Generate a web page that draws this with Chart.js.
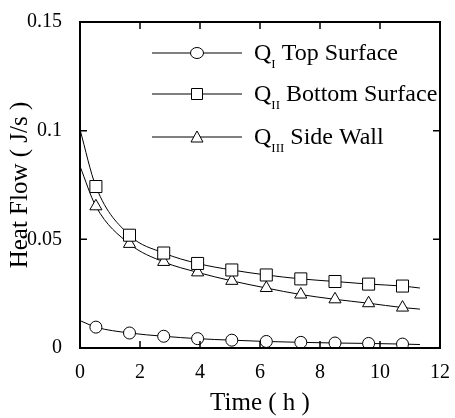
<!DOCTYPE html>
<html>
<head>
<meta charset="utf-8">
<script src="https://cdn.jsdelivr.net/npm/chart.js@4/dist/chart.umd.min.js"></script>
<style>
  html, body { margin: 0; padding: 0; background: #fff; }
  #heatFlow { display: block; }
</style>
</head>
<body>
<canvas id="heatFlow" width="455" height="418"></canvas>
<script>
// time (h) of each sampled point; first and last are curve ends without markers
const timeH = [0, 0.53, 1.65, 2.79, 3.92, 5.06, 6.21, 7.36, 8.5, 9.62, 10.75, 11.33];
const topSurface = [0.0126, 0.0096, 0.0069, 0.0054, 0.0043, 0.0036, 0.0030, 0.0026, 0.0023, 0.0021, 0.0018, 0.0016];
const bottomSurface = [0.1005, 0.0743, 0.0519, 0.0437, 0.0389, 0.0359, 0.0336, 0.0318, 0.0306, 0.0294, 0.0285, 0.0276];
const sideWall = [0.0836, 0.0652, 0.0479, 0.0396, 0.0348, 0.0309, 0.0276, 0.0246, 0.0224, 0.0206, 0.0186, 0.0179];

const xTickLabels = ['0', '2', '4', '6', '8', '10', '12'];
const yTickLabels = ['0', '0.05', '0.1', '0.15'];

const legendItems = [
    { q: 'Q', sub: 'I', text: 'Top Surface', style: 'circle' },
    { q: 'Q', sub: 'II', text: 'Bottom Surface', style: 'rect' },
    { q: 'Q', sub: 'III', text: 'Side Wall', style: 'triangle' }
];

const serif = '"Liberation Serif", "DejaVu Serif", serif';

function toPoints(values) {
    return values.map((v, i) => ({ x: timeH[i], y: v }));
}

function markerRadius(ctx) {
    const last = ctx.dataset.data.length - 1;
    if (ctx.dataIndex === 0 || ctx.dataIndex === last) return 0;
    return ctx.dataset.markerSize;
}

function makeSeries(label, values, style, size) {
    return {
        label: label,
        data: toPoints(values),
        borderColor: '#000',
        borderWidth: 1,
        pointStyle: style,
        markerSize: size,
        pointRadius: markerRadius,
        pointBackgroundColor: '#fff',
        pointBorderColor: '#000',
        pointBorderWidth: 1,
        cubicInterpolationMode: 'monotone',
        fill: false
    };
}

// draws a point marker for the legend
function drawMarker(ctx, style, x, y) {
    ctx.save();
    ctx.fillStyle = '#fff';
    ctx.strokeStyle = '#000';
    ctx.lineWidth = 1;
    ctx.beginPath();
    if (style === 'circle') {
        ctx.ellipse(x, y, 6.5, 5.5, 0, 0, Math.PI * 2);
    } else if (style === 'rect') {
        ctx.rect(x - 5.5, y - 5.5, 11, 11);
    } else {
        ctx.moveTo(x, y - 6);
        ctx.lineTo(x + 6, y + 5);
        ctx.lineTo(x - 6, y + 5);
        ctx.closePath();
    }
    ctx.fill();
    ctx.stroke();
    ctx.restore();
}

// frame with inward tick marks on all four sides, plus the custom legend
const frameAndLegend = {
    id: 'frameAndLegend',
    afterDraw(chart) {
        const ctx = chart.ctx;
        const area = chart.chartArea;
        const xs = chart.scales.x;
        const ys = chart.scales.y;
        ctx.save();
        ctx.strokeStyle = '#000';

        ctx.lineWidth = 2;
        ctx.strokeRect(area.left, area.top, area.right - area.left, area.bottom - area.top);

        ctx.lineWidth = 1.5;
        ctx.beginPath();
        xs.ticks.forEach(t => {
            const px = xs.getPixelForValue(t.value);
            ctx.moveTo(px, area.bottom);
            ctx.lineTo(px, area.bottom - 7);
            ctx.moveTo(px, area.top);
            ctx.lineTo(px, area.top + 7);
        });
        ys.ticks.forEach(t => {
            const py = ys.getPixelForValue(t.value);
            ctx.moveTo(area.left, py);
            ctx.lineTo(area.left + 7, py);
            ctx.moveTo(area.right, py);
            ctx.lineTo(area.right - 7, py);
        });
        ctx.stroke();

        // legend
        const lx = 152, lw = 90, rowY = [53, 94, 137];
        legendItems.forEach((item, i) => {
            const y = rowY[i];
            ctx.lineWidth = 1;
            ctx.beginPath();
            ctx.moveTo(lx, y);
            ctx.lineTo(lx + lw, y);
            ctx.stroke();
            drawMarker(ctx, item.style, lx + lw / 2, y);

            ctx.fillStyle = '#000';
            ctx.textBaseline = 'middle';
            ctx.textAlign = 'left';
            ctx.font = '24px ' + serif;
            let tx = lx + lw + 12;
            ctx.fillText(item.q, tx, y + 1);
            tx += ctx.measureText(item.q).width;
            ctx.font = '13px ' + serif;
            ctx.fillText(item.sub, tx, y + 12);
            tx += ctx.measureText(item.sub).width + 6;
            ctx.font = '24px ' + serif;
            ctx.fillText(item.text, tx, y + 1);
        });
        ctx.restore();
    }
};

const config = {
    type: 'line',
    data: {
        datasets: [
            makeSeries('Q I Top Surface', topSurface, 'circle', 6),
            makeSeries('Q II Bottom Surface', bottomSurface, 'rect', 8.5),
            makeSeries('Q III Side Wall', sideWall, 'triangle', 7)
        ]
    },
    options: {
        responsive: false,
        animation: false,
        layout: { padding: { top: 15, right: 9, left: 0, bottom: 0 } },
        plugins: {
            legend: { display: false },
            tooltip: { enabled: false }
        },
        scales: {
            x: {
                type: 'linear',
                min: 0,
                max: 12,
                ticks: {
                    stepSize: 2,
                    color: '#000',
                    padding: 5,
                    font: { family: serif, size: 20 },
                    callback: (value, index) => xTickLabels[index]
                },
                grid: { display: false },
                border: { display: false },
                title: {
                    display: true,
                    text: 'Time ( h )',
                    color: '#000',
                    font: { family: serif, size: 25 },
                    padding: { top: 6, bottom: 0 }
                },
                afterFit: scale => { scale.height = 70; }
            },
            y: {
                min: 0,
                max: 0.15,
                ticks: {
                    stepSize: 0.05,
                    color: '#000',
                    padding: 10,
                    font: { family: serif, size: 20 },
                    callback: (value, index) => yTickLabels[index]
                },
                grid: { display: false },
                border: { display: false },
                title: {
                    display: true,
                    text: 'Heat Flow ( J/s )',
                    color: '#000',
                    font: { family: serif, size: 25 },
                    padding: { top: 5, bottom: 0 }
                },
                afterFit: scale => { scale.width = 80; }
            }
        }
    },
    plugins: [frameAndLegend]
};

const ctx = document.getElementById('heatFlow').getContext('2d');
new Chart(ctx, config);
</script>
</body>
</html>
